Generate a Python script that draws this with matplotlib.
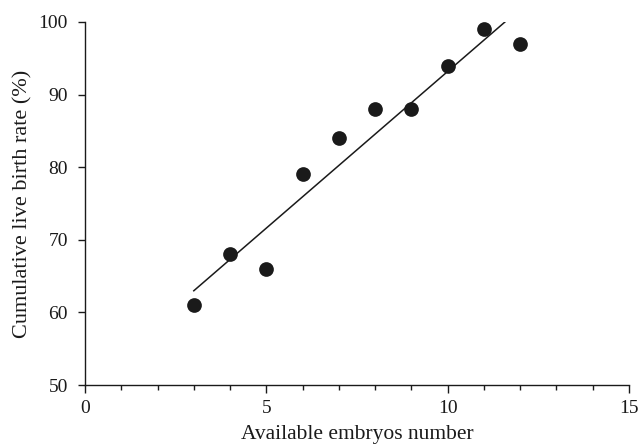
import numpy as np
import matplotlib
matplotlib.use('Agg')
from matplotlib import pyplot as plt
from matplotlib.ticker import MultipleLocator

plt.rcParams["font.family"] = ["Liberation Serif", "DejaVu Serif"]

embryos = np.array([3, 4, 5, 6, 7, 8, 9, 10, 11, 12])
birth_rate = np.array([61, 68, 66, 79, 84, 88, 88, 94, 99, 97])

# linear fit, drawn from the first point up to ~100%
slope, intercept = np.polyfit(embryos, birth_rate, 1)
fit_x = np.array([3, 11.65])
fit_y = slope * fit_x + intercept

fig = plt.figure(figsize=(6.39, 4.45), dpi=100)
ax = fig.add_axes([0.133, 0.1348, 0.8514, 0.8158])

ax.plot(fit_x, fit_y, color="#1a1a1a", lw=1.1)
ax.scatter(embryos, birth_rate, s=112, color="#1a1a1a", zorder=3, linewidths=0)

ax.set_xlim(0, 15)
ax.set_ylim(50, 100)
ax.xaxis.set_major_locator(MultipleLocator(5))
ax.xaxis.set_minor_locator(MultipleLocator(1))
ax.yaxis.set_major_locator(MultipleLocator(10))

for s in ["top", "right"]:
    ax.spines[s].set_visible(False)
for s in ["left", "bottom"]:
    ax.spines[s].set_linewidth(1.0)
    ax.spines[s].set_color("#1a1a1a")

ax.tick_params(axis="both", which="major", direction="out", length=5.4, width=1.0,
               labelsize=14, colors="#1a1a1a")
ax.tick_params(axis="x", which="major", pad=5.5)
ax.tick_params(axis="y", which="major", pad=7)
ax.tick_params(axis="x", which="minor", direction="out", length=3.3, width=1.0,
               colors="#1a1a1a")

ax.set_xlabel("Available embryos number", fontsize=15.5, color="#1a1a1a", labelpad=5.5)
ax.set_ylabel("Cumulative live birth rate (%)", fontsize=16, color="#1a1a1a", labelpad=4)

plt.savefig("out.png", dpi=100)
plt.close()
